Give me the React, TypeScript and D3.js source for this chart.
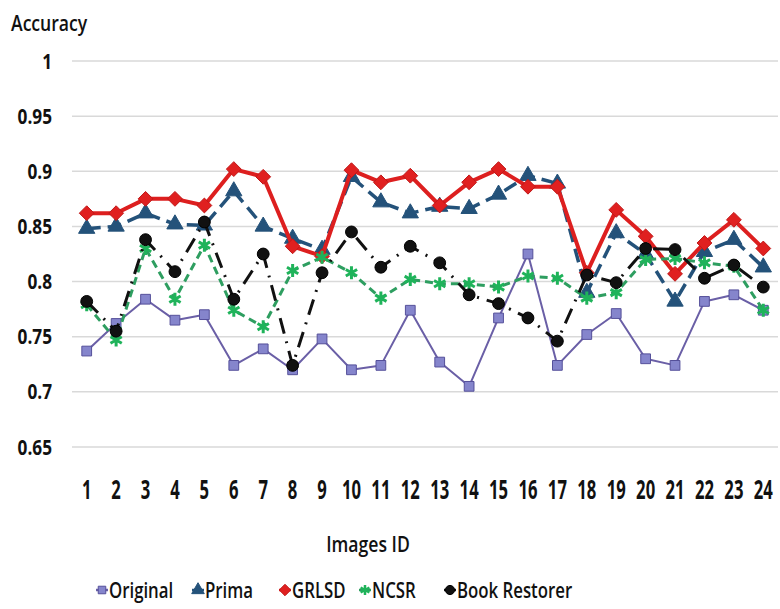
import React from "react";
import * as d3 from "d3";

// Accuracy per image
const imageIds = d3.range(1, 25).map(String);
const original = [0.737, 0.762, 0.784, 0.765, 0.77, 0.724, 0.739, 0.72, 0.748, 0.72, 0.724, 0.774, 0.727, 0.705, 0.767, 0.825, 0.724, 0.752, 0.771, 0.73, 0.724, 0.782, 0.788, 0.774];
const prima = [0.848, 0.85, 0.862, 0.852, 0.851, 0.882, 0.85, 0.839, 0.829, 0.895, 0.872, 0.862, 0.868, 0.866, 0.879, 0.896, 0.889, 0.79, 0.844, 0.825, 0.782, 0.827, 0.838, 0.813];
const grlsd = [0.862, 0.862, 0.875, 0.875, 0.869, 0.902, 0.895, 0.832, 0.823, 0.901, 0.89, 0.896, 0.869, 0.89, 0.902, 0.886, 0.886, 0.808, 0.865, 0.841, 0.807, 0.835, 0.856, 0.83];
const ncsr = [0.779, 0.747, 0.83, 0.784, 0.833, 0.774, 0.759, 0.81, 0.822, 0.808, 0.785, 0.802, 0.798, 0.798, 0.795, 0.805, 0.803, 0.785, 0.79, 0.82, 0.821, 0.817, 0.814, 0.774];
const bookRestorer = [0.782, 0.755, 0.838, 0.809, 0.854, 0.784, 0.825, 0.724, 0.808, 0.845, 0.813, 0.832, 0.817, 0.788, 0.78, 0.767, 0.746, 0.806, 0.799, 0.83, 0.829, 0.803, 0.815, 0.795];
const yTicks = [0.65, 0.7, 0.75, 0.8, 0.85, 0.9, 0.95, 1];

type Series = {
    name: string;
    values: number[];
    line: string;
    width: number;
    dash: string;
    symbol: d3.SymbolType;
    size: number;
    fill: string;
    stroke: string;
    markerStroke: number;
};

const series: Series[] = [
    { name: "Original", values: original, line: "#6a5fa6", width: 2, dash: "", symbol: d3.symbolSquare, size: 95, fill: "#8585cc", stroke: "#55509a", markerStroke: 1 },
    { name: "Prima", values: prima, line: "#24527a", width: 3.5, dash: "14 7", symbol: d3.symbolTriangle, size: 115, fill: "#24527a", stroke: "#24527a", markerStroke: 1 },
    { name: "GRLSD", values: grlsd, line: "#dd1f1f", width: 4, dash: "", symbol: d3.symbolDiamond2, size: 140, fill: "#e02020", stroke: "#c01818", markerStroke: 1 },
    { name: "NCSR", values: ncsr, line: "#2e9e60", width: 3, dash: "8 5", symbol: d3.symbolAsterisk, size: 120, fill: "none", stroke: "#1fb35a", markerStroke: 3 },
    { name: "Book Restorer", values: bookRestorer, line: "#111111", width: 3, dash: "16 8 2 8", symbol: d3.symbolCircle, size: 110, fill: "#111111", stroke: "#000000", markerStroke: 1 },
];

const W = 780;
const H = 609;
const plot = { left: 72, right: 778, top: 61, bottom: 447 };
const legendX = [102, 198, 285, 365, 450];
const font = "'Open Sans', 'Noto Sans', sans-serif";

// text squeezed horizontally, to get the narrow look of the original font
function SText(props: { x: number; y: number; size: number; sx: number; weight: number; anchor?: string; children: React.ReactNode }) {
    const { x, y, size, sx, weight, anchor = "start", children } = props;
    return (
        <text
            transform={`translate(${x},${y}) scale(${sx},1)`}
            dy="0.36em"
            textAnchor={anchor}
            fontFamily={font}
            fontWeight={weight}
            fontSize={size}
            fill="#111"
        >
            {children}
        </text>
    );
}

export default function App() {
    const x = d3.scaleBand<string>().domain(imageIds).range([plot.left, plot.right]);
    const cx = (id: string) => (x(id) ?? 0) + x.bandwidth() / 2;
    const y = d3.scaleLinear().domain([0.65, 1]).range([plot.bottom, plot.top]);

    const line = d3
        .line<number>()
        .x((d, i) => cx(imageIds[i]))
        .y((d) => y(d));

    const marker = (s: Series, k = 1) => d3.symbol(s.symbol, s.size * k)() ?? "";

    return (
        <svg width={W} height={H} style={{ position: "absolute", left: 0, top: 0, background: "#fff" }}>
            {/* gridlines */}
            {yTicks.map((t) => (
                <line key={t} x1={plot.left} x2={plot.right} y1={y(t)} y2={y(t)} stroke="#d9d9d9" strokeWidth={1.5} />
            ))}
            {/* y tick labels */}
            {yTicks.map((t) => (
                <SText key={"l" + t} x={52} y={y(t)} size={21} sx={0.82} weight={700} anchor="end">
                    {d3.format("")(t)}
                </SText>
            ))}
            <SText x={11} y={23} size={22} sx={0.8} weight={600}>Accuracy</SText>

            {/* x tick labels */}
            {imageIds.map((id) => (
                <SText key={id} x={cx(id)} y={490} size={26} sx={0.64} weight={700} anchor="middle">
                    {id}
                </SText>
            ))}
            <SText x={368} y={544} size={22} sx={0.8} weight={600} anchor="middle">Images ID</SText>

            {/* series */}
            {series.map((s) => (
                <g key={s.name}>
                    <path d={line(s.values) ?? ""} fill="none" stroke={s.line} strokeWidth={s.width} strokeDasharray={s.dash} strokeLinejoin="round" />
                    {s.values.map((v, i) => (
                        <path
                            key={i}
                            d={marker(s)}
                            transform={`translate(${cx(imageIds[i])},${y(v)})`}
                            fill={s.fill}
                            stroke={s.stroke}
                            strokeWidth={s.markerStroke}
                        />
                    ))}
                </g>
            ))}

            {/* legend */}
            {series.map((s, i) => (
                <g key={"lg" + s.name} transform={`translate(${legendX[i]},590)`}>
                    <line x1={-6} x2={6} y1={0} y2={0} stroke={s.line} strokeWidth={2.5} />
                    <path d={marker(s, 0.6)} fill={s.fill} stroke={s.stroke} strokeWidth={s.markerStroke > 1 ? 2.5 : 1} />
                    <SText x={7} y={0} size={21} sx={0.8} weight={600}>
                        {s.name}
                    </SText>
                </g>
            ))}
        </svg>
    );
}
